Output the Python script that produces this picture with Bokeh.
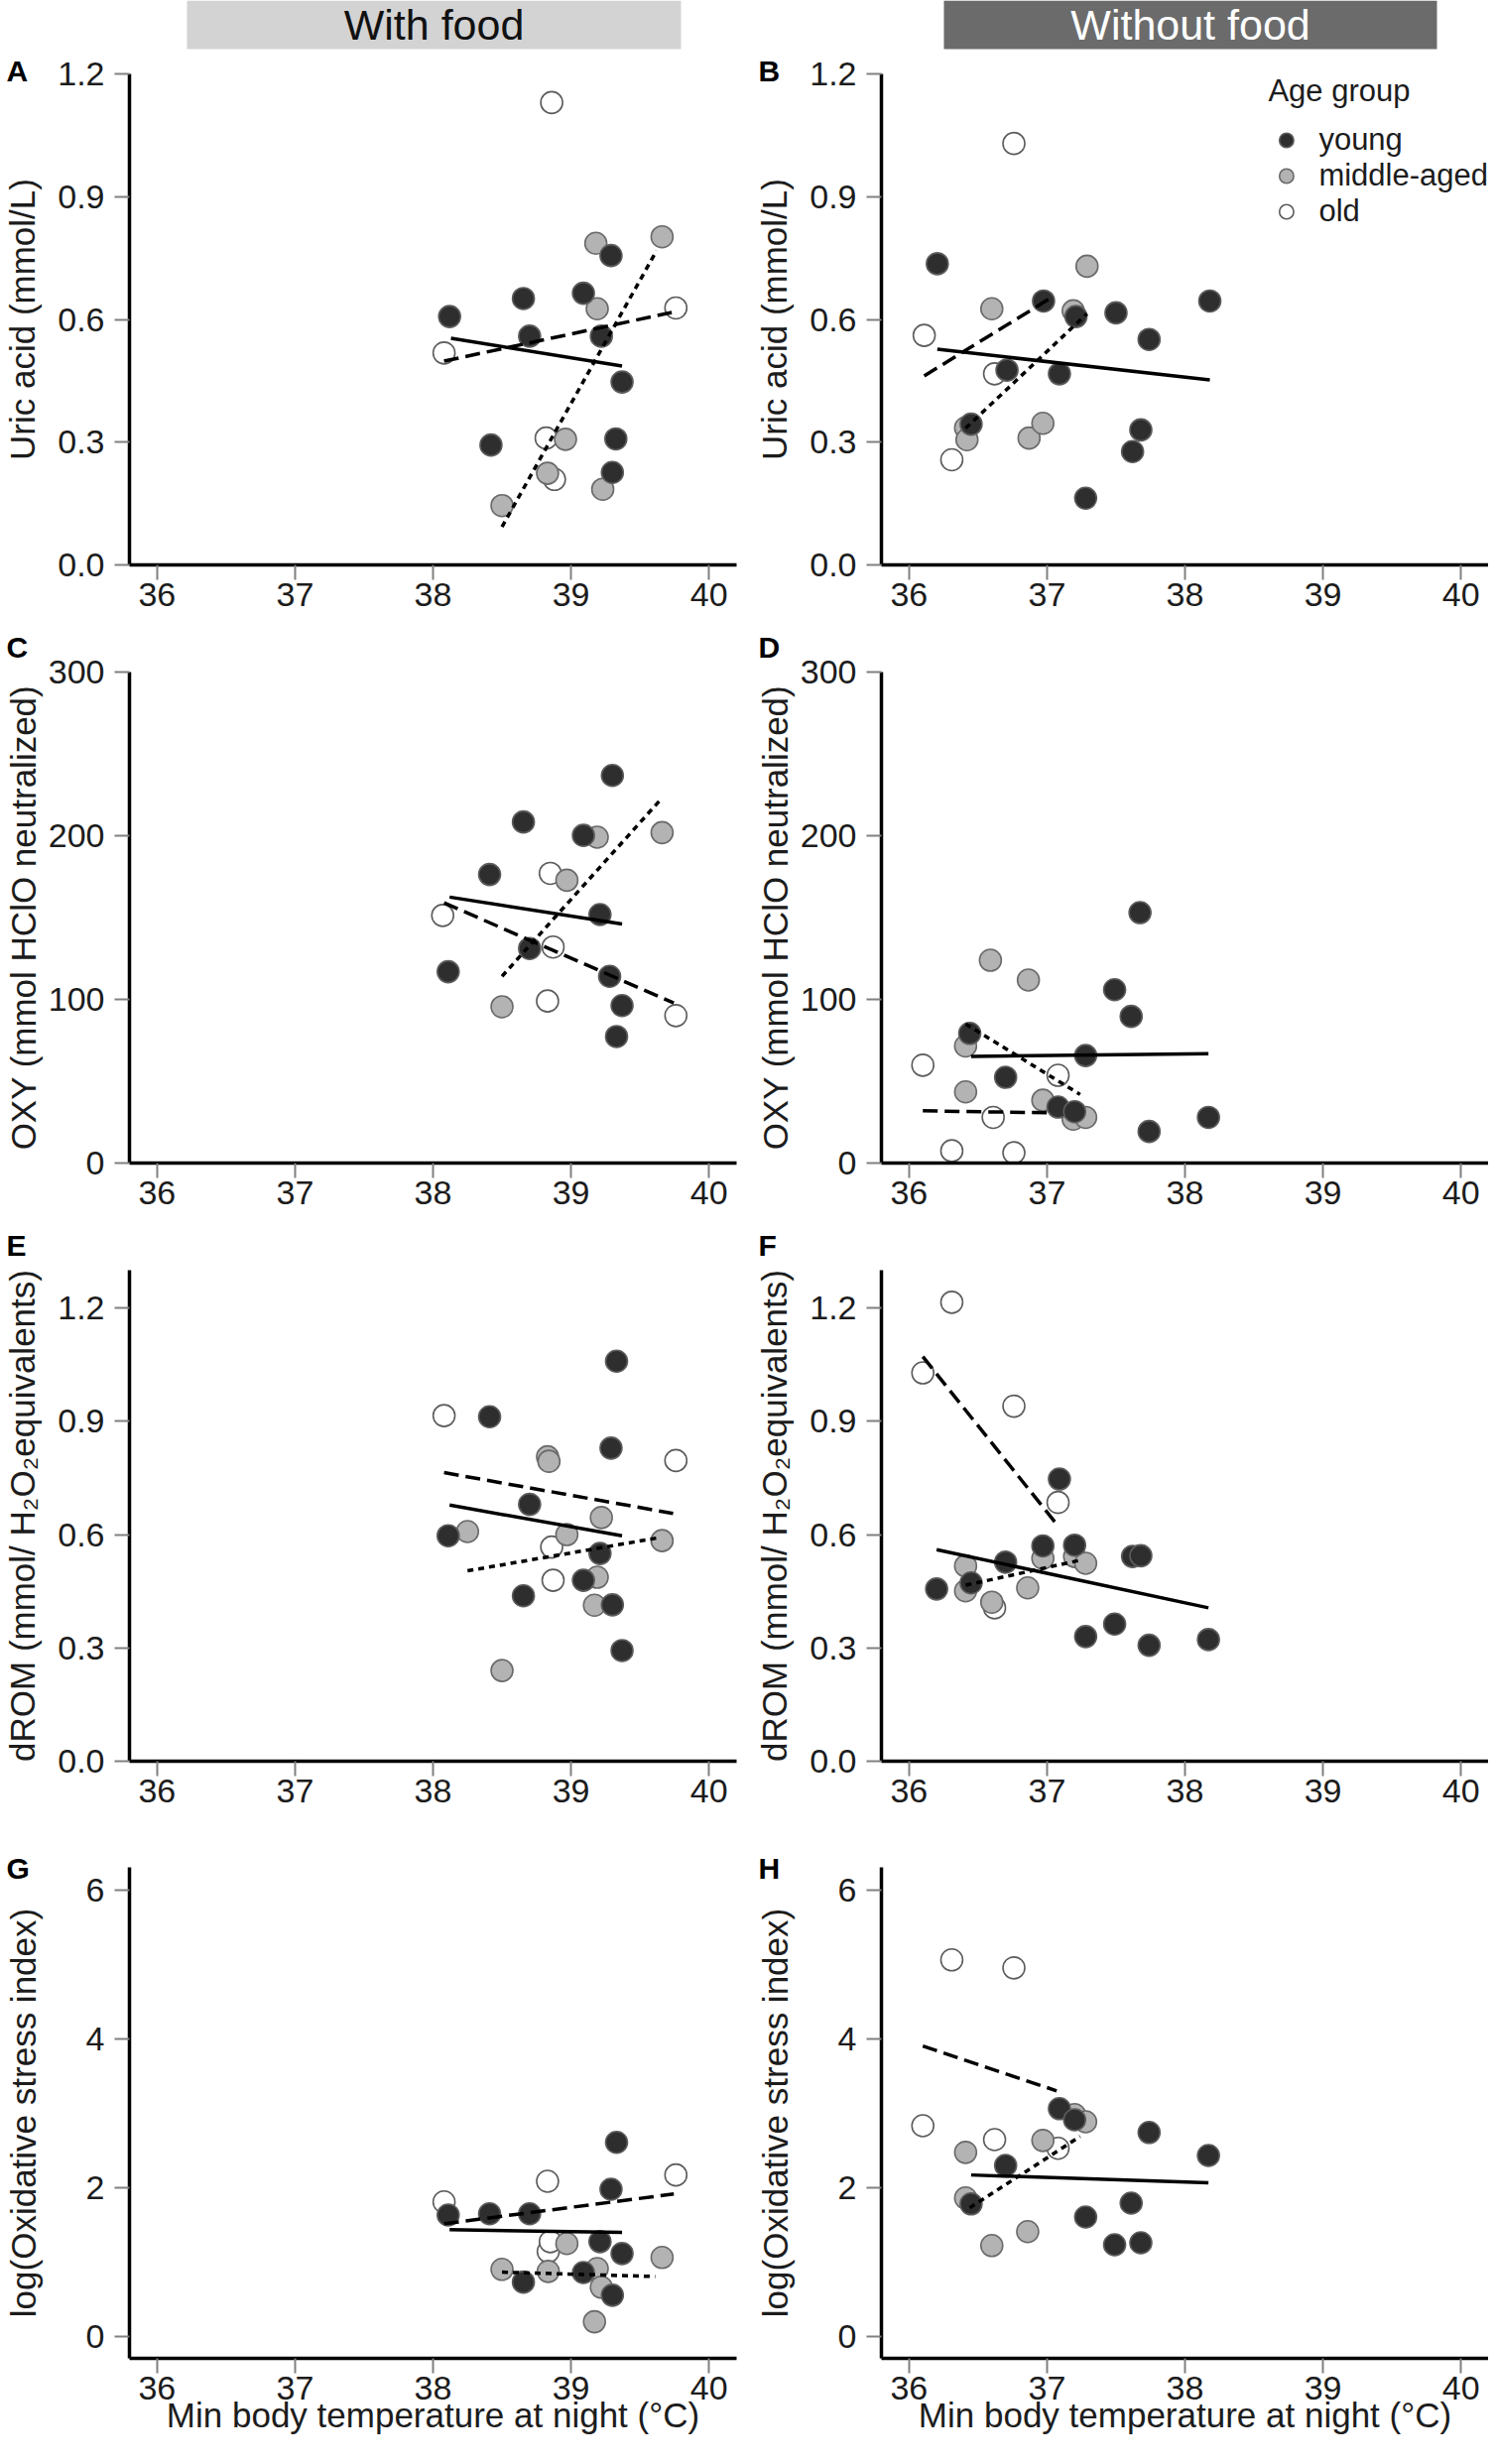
from bokeh.plotting import figure
from bokeh.layouts import column, gridplot
from bokeh.models import Range1d, FixedTicker, NumeralTickFormatter, Legend, LegendItem
from bokeh.embed import file_html
from bokeh.resources import INLINE
from bokeh.core.properties import value

# ---------------- data ----------------
CONDITIONS = ["With food", "Without food"]
GROUPS = ["young", "middle-aged", "old"]
TEMP_TICKS = [36, 37, 38, 39, 40]

# Panel A  (uric acid, with food)
A_young_x = [38.12, 38.42, 38.655, 38.70, 39.09, 39.22, 39.29, 39.30, 39.325, 39.37]
A_young_y = [0.607, 0.293, 0.651, 0.559, 0.664, 0.559, 0.756, 0.226, 0.308, 0.447]
A_middle_x = [38.50, 38.83, 38.96, 39.18, 39.19, 39.23, 39.66]
A_middle_y = [0.145, 0.224, 0.307, 0.786, 0.626, 0.185, 0.802]
A_old_x = [38.08, 38.82, 38.86, 38.88, 39.76]
A_old_y = [0.518, 0.310, 1.13, 0.209, 0.628]
A_fit_x = {"young": [38.13, 39.37], "middle-aged": [38.50, 39.62], "old": [38.08, 39.73]}
A_fit_y = {"young": [0.554, 0.486], "middle-aged": [0.093, 0.768], "old": [0.498, 0.617]}

# Panel B  (uric acid, without food)
B_young_x = [36.205, 36.45, 36.71, 36.975, 37.09, 37.21, 37.28, 37.50, 37.62, 37.68, 37.74, 38.18]
B_young_y = [0.736, 0.344, 0.476, 0.645, 0.467, 0.607, 0.163, 0.616, 0.277, 0.330, 0.551, 0.645]
B_middle_x = [36.41, 36.42, 36.60, 36.87, 36.97, 37.19, 37.29]
B_middle_y = [0.335, 0.306, 0.626, 0.310, 0.346, 0.621, 0.730]
B_old_x = [36.11, 36.31, 36.62, 36.76]
B_old_y = [0.561, 0.257, 0.467, 1.03]
B_fit_x = {"young": [36.205, 38.18], "middle-aged": [36.41, 37.29], "old": [36.11, 37.03]}
B_fit_y = {"young": [0.527, 0.452], "middle-aged": [0.334, 0.614], "old": [0.462, 0.653]}

# Panel C  (OXY, with food)
C_young_x = [38.11, 38.41, 38.655, 38.70, 39.09, 39.21, 39.28, 39.30, 39.33, 39.37]
C_young_y = [116.9, 176.3, 208.4, 131.1, 200.2, 151.8, 114.1, 236.8, 77.3, 96.2]
C_middle_x = [38.50, 38.97, 39.19, 39.66]
C_middle_y = [95.5, 172.8, 199.1, 201.9]
C_old_x = [38.07, 38.83, 38.85, 38.87, 39.76]
C_old_y = [151.3, 99.0, 177.0, 132.0, 90.1]
C_fit_x = {"young": [38.12, 39.37], "middle-aged": [38.50, 39.64], "old": [38.08, 39.745]}
C_fit_y = {"young": [162.5, 146.0], "middle-aged": [114.1, 221.2], "old": [159.0, 97.8]}

# Panel D  (OXY, without food)
D_young_x = [36.44, 36.70, 37.08, 37.20, 37.28, 37.49, 37.61, 37.674, 37.74, 38.17]
D_young_y = [79.2, 52.4, 34.2, 31.4, 65.7, 105.9, 89.6, 153.0, 19.3, 27.9]
D_middle_x = [36.41, 36.41, 36.59, 36.865, 36.97, 37.19, 37.28]
D_middle_y = [71.5, 43.5, 123.9, 111.8, 38.4, 26.8, 27.9]
D_old_x = [36.10, 36.31, 36.61, 36.76, 37.08]
D_old_y = [59.8, 7.5, 27.9, 6.3, 53.6]
D_fit_x = {"young": [36.45, 38.17], "middle-aged": [36.41, 37.24], "old": [36.10, 37.02]}
D_fit_y = {"young": [65.2, 66.8], "middle-aged": [85.0, 41.9], "old": [31.9, 30.7]}

# Panel E  (dROM, with food)
E_young_x = [38.11, 38.41, 38.655, 38.70, 39.09, 39.21, 39.29, 39.30, 39.33, 39.37]
E_young_y = [0.597, 0.912, 0.438, 0.680, 0.479, 0.550, 0.829, 0.414, 1.059, 0.293]
E_middle_x = [38.25, 38.50, 38.83, 38.84, 38.97, 39.17, 39.19, 39.22, 39.66]
E_middle_y = [0.608, 0.240, 0.806, 0.794, 0.600, 0.413, 0.487, 0.645, 0.584]
E_old_x = [38.08, 38.86, 38.87, 39.76]
E_old_y = [0.915, 0.567, 0.479, 0.796]
E_fit_x = {"young": [38.12, 39.37], "middle-aged": [38.25, 39.64], "old": [38.08, 39.74]}
E_fit_y = {"young": [0.678, 0.597], "middle-aged": [0.504, 0.592], "old": [0.764, 0.656]}

# Panel F  (dROM, without food)
F_young_x = [36.20, 36.45, 36.70, 36.97, 37.09, 37.20, 37.28, 37.49, 37.62, 37.68, 37.74, 38.17]
F_young_y = [0.456, 0.472, 0.527, 0.570, 0.747, 0.572, 0.330, 0.363, 0.542, 0.544, 0.307, 0.322]
F_middle_x = [36.41, 36.41, 36.60, 36.86, 36.97, 37.20, 37.28]
F_middle_y = [0.517, 0.451, 0.421, 0.459, 0.537, 0.542, 0.524]
F_old_x = [36.10, 36.31, 36.62, 36.76, 37.08]
F_old_y = [1.028, 1.215, 0.406, 0.940, 0.685]
F_fit_x = {"young": [36.20, 38.17], "middle-aged": [36.41, 37.24], "old": [36.10, 37.08]}
F_fit_y = {"young": [0.560, 0.406], "middle-aged": [0.466, 0.532], "old": [1.071, 0.623]}

# Panel G  (log OSI, with food)
G_young_x = [38.11, 38.41, 38.655, 38.70, 39.09, 39.21, 39.29, 39.30, 39.33, 39.37]
G_young_y = [1.627, 1.643, 0.725, 1.643, 0.853, 1.269, 1.973, 0.549, 2.603, 1.109]
G_middle_x = [38.50, 38.835, 38.97, 39.17, 39.19, 39.22, 39.66]
G_middle_y = [0.896, 0.869, 1.243, 0.192, 0.907, 0.656, 1.056]
G_old_x = [38.08, 38.83, 38.835, 38.85, 39.76]
G_old_y = [1.803, 2.080, 1.136, 1.269, 2.165]
G_fit_x = {"young": [38.12, 39.37], "middle-aged": [38.50, 39.61], "old": [38.08, 39.745]}
G_fit_y = {"young": [1.429, 1.392], "middle-aged": [0.859, 0.800], "old": [1.509, 1.909]}

# Panel H  (log OSI, without food)
H_young_x = [36.45, 36.70, 37.09, 37.20, 37.28, 37.49, 37.61, 37.68, 37.74, 38.17]
H_young_y = [1.776, 2.293, 3.056, 2.907, 1.600, 1.227, 1.787, 1.253, 2.736, 2.427]
H_middle_x = [36.41, 36.41, 36.60, 36.86, 36.97, 37.20, 37.28]
H_middle_y = [2.469, 1.856, 1.216, 1.403, 2.629, 2.976, 2.880]
H_old_x = [36.10, 36.31, 36.62, 36.76, 37.08]
H_old_y = [2.827, 5.056, 2.640, 4.949, 2.523]
H_fit_x = {"young": [36.45, 38.17], "middle-aged": [36.44, 37.24], "old": [36.10, 37.07]}
H_fit_y = {"young": [2.165, 2.059], "middle-aged": [1.723, 2.683], "old": [3.899, 3.296]}

Y_LABELS = ["Uric acid (mmol/L)", "OXY (mmol HClO neutralized)",
            "dROM (mmol/ H\u2082O\u2082equivalents)", "log(Oxidative stress index)"]
Y_RANGES = [(0, 1.2), (0, 300), (0, 1.3), (-0.3, 6.3)]
Y_TICKS = [[0, 0.3, 0.6, 0.9, 1.2], [0, 100, 200, 300], [0, 0.3, 0.6, 0.9, 1.2], [0, 2, 4, 6]]
Y_FORMATS = ["0.0", None, "0.0", None]
X_LABEL = "Min body temperature at night (\u00b0C)"
LEGEND_TITLE = "Age group"

PANELS = {
    "A": {"young": (A_young_x, A_young_y), "middle-aged": (A_middle_x, A_middle_y), "old": (A_old_x, A_old_y), "fx": A_fit_x, "fy": A_fit_y},
    "B": {"young": (B_young_x, B_young_y), "middle-aged": (B_middle_x, B_middle_y), "old": (B_old_x, B_old_y), "fx": B_fit_x, "fy": B_fit_y},
    "C": {"young": (C_young_x, C_young_y), "middle-aged": (C_middle_x, C_middle_y), "old": (C_old_x, C_old_y), "fx": C_fit_x, "fy": C_fit_y},
    "D": {"young": (D_young_x, D_young_y), "middle-aged": (D_middle_x, D_middle_y), "old": (D_old_x, D_old_y), "fx": D_fit_x, "fy": D_fit_y},
    "E": {"young": (E_young_x, E_young_y), "middle-aged": (E_middle_x, E_middle_y), "old": (E_old_x, E_old_y), "fx": E_fit_x, "fy": E_fit_y},
    "F": {"young": (F_young_x, F_young_y), "middle-aged": (F_middle_x, F_middle_y), "old": (F_old_x, F_old_y), "fx": F_fit_x, "fy": F_fit_y},
    "G": {"young": (G_young_x, G_young_y), "middle-aged": (G_middle_x, G_middle_y), "old": (G_old_x, G_old_y), "fx": G_fit_x, "fy": G_fit_y},
    "H": {"young": (H_young_x, H_young_y), "middle-aged": (H_middle_x, H_middle_y), "old": (H_old_x, H_old_y), "fx": H_fit_x, "fy": H_fit_y},
}

# ---------------- style ----------------
FONT = "Liberation Sans"
TEXT_COLOR = "#1c1c1c"
MARKER_STYLE = {
    "young": dict(fill_color="#2e2e2e", line_color="#5c5c5c"),
    "middle-aged": dict(fill_color="#b3b3b3", line_color="#6a6a6a"),
    "old": dict(fill_color="#ffffff", line_color="#5c5c5c"),
}
FIT_DASH = {"young": "solid", "middle-aged": "6 5", "old": "15 7"}
DRAW_ORDER = ["old", "middle-aged", "young"]

FRAME_W, FRAME_H = 612, 495
X_START, X_END = 35.8, 40.2
TOP_BORDER = [22, 51, 51, 50]
BOTTOM_BORDER = [57, 57, 57, 91]
LETTER_VALIGN = ["bottom", "top", "top", "bottom"]
LETTER_STANDOFF = [-26, 14, 14, -34]
LETTER_OFFSET = -124
LETTER_SIZE = "30px"
TICK_FONT_PX = 34
TICK_OUT = 15


def label_width(s, size):
    return sum(0.556 if ch.isdigit() else 0.278 for ch in s) * size


def style_axis(ax):
    ax.axis_line_width = 3.5
    ax.axis_line_color = "black"
    ax.major_tick_line_color = "#808080"
    ax.major_tick_line_width = 2
    ax.major_tick_in = 0
    ax.major_tick_out = TICK_OUT
    ax.minor_tick_line_color = None
    ax.major_label_text_font = FONT
    ax.major_label_text_font_size = f"{TICK_FONT_PX}px"
    ax.major_label_text_color = TEXT_COLOR
    ax.axis_label_text_font = FONT
    ax.axis_label_text_font_size = "35px"
    ax.axis_label_text_font_style = "normal"
    ax.axis_label_text_color = TEXT_COLOR


def make_panel(letter, row, col):
    y0, y1 = Y_RANGES[row]
    p = figure(frame_width=FRAME_W, frame_height=FRAME_H,
               x_range=Range1d(X_START, X_END), y_range=Range1d(y0, y1),
               output_backend="svg", toolbar_location=None,
               min_border_left=125, min_border_right=16 if col == 0 else 0,
               min_border_top=TOP_BORDER[row], min_border_bottom=BOTTOM_BORDER[row])
    p.xgrid.visible = False
    p.ygrid.visible = False
    p.outline_line_color = None
    p.background_fill_color = "white"
    p.border_fill_color = "white"

    # panel letter as the plot title (side-panel text is not clipped)
    p.title.text = letter
    p.title.align = "left"
    p.title.offset = LETTER_OFFSET
    p.title.vertical_align = LETTER_VALIGN[row]
    p.title.standoff = LETTER_STANDOFF[row]
    p.title.text_font = FONT
    p.title.text_font_style = "bold"
    p.title.text_font_size = LETTER_SIZE
    p.title.text_color = "black"

    style_axis(p.xaxis[0])
    style_axis(p.yaxis[0])
    p.xaxis.ticker = FixedTicker(ticks=TEMP_TICKS)
    p.xaxis.major_label_standoff = 3
    p.yaxis.ticker = FixedTicker(ticks=Y_TICKS[row])
    if Y_FORMATS[row]:
        p.yaxis.formatter = NumeralTickFormatter(format=Y_FORMATS[row])
    p.yaxis.major_label_standoff = 10
    p.yaxis.axis_label = Y_LABELS[row]
    widest = max(label_width(("%.1f" % t) if Y_FORMATS[row] else str(t), TICK_FONT_PX) for t in Y_TICKS[row])
    p.yaxis.axis_label_standoff = int(round(60 - widest))
    if row == 3:
        p.xaxis.axis_label = X_LABEL
        p.xaxis.axis_label_standoff = -7

    d = PANELS[letter]
    renderers = {}
    for g in DRAW_ORDER:
        xs, ys = d[g]
        renderers[g] = p.scatter(xs, ys, size=22, marker="circle", line_width=1.6, **MARKER_STYLE[g])
    for g in GROUPS:
        p.line(d["fx"][g], d["fy"][g], line_color="black", line_width=3.5, line_dash=FIT_DASH[g])

    if letter == "B":
        legend = Legend(items=[LegendItem(label=g, renderers=[renderers[g]]) for g in GROUPS],
                        location="top_right", title=LEGEND_TITLE,
                        title_text_font=FONT, title_text_font_size="31px", title_text_font_style="normal",
                        title_text_color=TEXT_COLOR, title_standoff=13,
                        label_text_font=FONT, label_text_font_size="31px", label_text_color=TEXT_COLOR,
                        glyph_width=36, glyph_height=36, spacing=0, label_standoff=15,
                        padding=0, margin=0, border_line_color=None, background_fill_alpha=0)
        p.add_layout(legend)
    return p


# ---------------- header ----------------
HEAD_W, HEAD_H = 1490, 52
header = figure(frame_width=HEAD_W, frame_height=HEAD_H, x_range=Range1d(0, HEAD_W), y_range=Range1d(0, HEAD_H),
                output_backend="svg", toolbar_location=None, min_border=0,
                x_axis_location=None, y_axis_location=None)
header.outline_line_color = None
header.grid.visible = False
header.quad(left=[188, 951], right=[686, 1448], bottom=[3, 3], top=[HEAD_H, HEAD_H],
            fill_color=["#d3d3d3", "#6b6b6b"], line_color=None)
header.text(x=[437, 1199.5], y=[28, 28], text=CONDITIONS, text_font=value(FONT), text_font_size="43px",
            text_align="center", text_baseline="middle", text_color=["#111111", "#ffffff"])

letters = [["A", "B"], ["C", "D"], ["E", "F"], ["G", "H"]]
grid = gridplot([[make_panel(l, r, c) for c, l in enumerate(rowl)] for r, rowl in enumerate(letters)],
                toolbar_location=None)

layout = column(header, grid, spacing=0)
open("out.html", "w").write(file_html(layout, INLINE))
